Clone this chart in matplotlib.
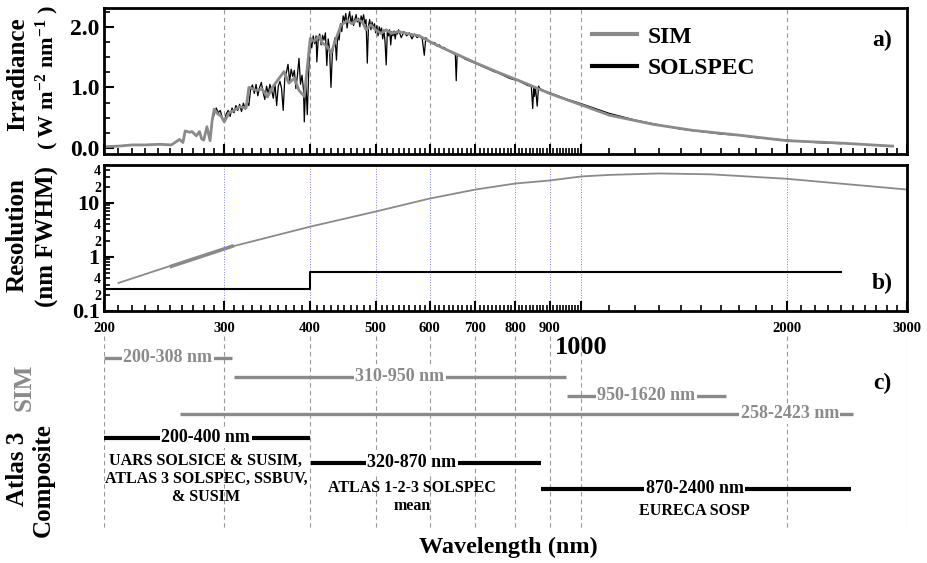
import matplotlib
matplotlib.use('Agg')
import matplotlib.pyplot as plt
import matplotlib.ticker as mticker
from matplotlib.lines import Line2D

plt.rcParams['font.family'] = 'Liberation Serif'
plt.rcParams['font.weight'] = 'bold'
plt.rcParams['mathtext.fontset'] = 'custom'
plt.rcParams['mathtext.rm'] = 'Liberation Serif:bold'
plt.rcParams['mathtext.it'] = 'Liberation Serif:bold'
plt.rcParams['mathtext.bf'] = 'Liberation Serif:bold'

# a) irradiance, W m-2 nm-1 (read off the figure)
sim_wl = [200, 210, 220, 230, 241, 251, 258, 261, 263, 267, 269, 273, 276, 278, 280,
          283, 286, 288, 290, 293, 297, 300, 305, 310, 316, 323, 326, 334, 341, 347,
          353, 361, 367, 373, 380, 386, 393, 401, 406, 413, 417, 425, 430, 437, 445,
          455, 462, 470, 478, 484, 492, 500, 509, 518, 527, 540, 554, 579, 599, 627,
          656, 702, 751, 803, 840, 868, 898, 1000, 1100, 1274, 1457, 1706, 2000, 2400, 2858]
sim_irr = [0.02, 0.03, 0.05, 0.05, 0.06, 0.05, 0.14, 0.09, 0.28, 0.26, 0.27, 0.20, 0.27, 0.15, 0.13,
           0.35, 0.12, 0.45, 0.64, 0.57, 0.52, 0.43, 0.58, 0.62, 0.68, 0.66, 1.00, 0.95, 0.97, 0.84,
           1.00, 1.15, 1.26, 1.07, 1.15, 0.95, 0.85, 1.81, 1.76, 1.84, 1.74, 1.67, 1.56, 1.79, 2.03,
           2.10, 2.05, 2.12, 2.08, 1.95, 2.03, 1.95, 1.89, 1.95, 1.89, 1.92, 1.89, 1.85, 1.76, 1.65,
           1.55, 1.40, 1.26, 1.13, 1.04, 0.97, 0.90, 0.71, 0.54, 0.39, 0.29, 0.21, 0.12, 0.08, 0.03]

solspec_wl = [288, 290, 292, 294, 296, 298, 300, 302, 304, 306, 308, 310, 312, 314, 316, 318,
              320, 322, 324, 326, 328, 330, 332, 334, 336, 338, 340, 342, 344, 346, 348, 350,
              352, 354, 356, 358, 360, 362, 364, 366, 368, 370, 372, 374, 376, 378, 380, 382,
              384, 386, 388, 390, 392, 393, 395, 397, 399, 401, 403, 405, 407, 409, 410, 412,
              414, 416, 418, 420, 422, 424, 426, 428, 430, 432, 434, 436, 438, 440, 442, 444,
              446, 448, 450, 452, 454, 456, 458, 460, 462, 464, 466, 468, 470, 472, 474, 476,
              478, 480, 482, 484, 486, 488, 490, 492, 494, 496, 498, 500, 502, 504, 506, 508,
              510, 512, 514, 516, 518, 520, 522, 524, 526, 528, 530, 532, 534, 536, 538, 540,
              545, 550, 555, 560, 565, 570, 575, 580, 585, 589, 592, 596, 600, 605, 610, 615,
              620, 625, 630, 635, 640, 645, 650, 654, 656, 658, 665, 675, 685, 695, 705, 715,
              725, 735, 745, 755, 765, 775, 785, 795, 805, 815, 825, 835, 845, 849, 852, 854,
              857, 862, 866, 870, 880, 890, 900, 950, 1000, 1100, 1200, 1300, 1400, 1500, 1600,
              1700, 1800, 1900, 2000, 2200, 2400]
solspec_irr = [0.45, 0.55, 0.66, 0.58, 0.62, 0.50, 0.43, 0.56, 0.62, 0.52, 0.66, 0.58, 0.70, 0.62, 0.72, 0.60,
               0.74, 0.64, 0.76, 0.70, 0.98, 1.04, 0.90, 1.05, 0.86, 1.00, 1.08, 0.92, 0.80, 1.02, 0.90, 1.05,
               0.95, 0.82, 1.06, 0.70, 1.02, 1.10, 0.98, 0.62, 1.15, 1.25, 1.38, 1.10, 1.30, 1.18, 1.28, 0.98,
               1.20, 1.48, 1.05, 1.20, 0.95, 0.43, 1.10, 0.55, 1.30, 1.78, 1.65, 1.85, 1.72, 1.85, 1.42, 1.82,
               1.88, 1.70, 1.86, 1.78, 1.90, 1.36, 1.80, 1.62, 1.00, 1.55, 1.72, 1.82, 1.45, 1.90, 1.78, 2.05,
               1.92, 2.18, 2.10, 2.22, 1.98, 2.15, 2.25, 2.05, 2.18, 2.02, 2.12, 2.20, 2.08, 2.14, 2.00, 2.18,
               2.10, 2.20, 2.05, 2.12, 1.40, 2.02, 2.12, 1.95, 2.08, 1.98, 2.05, 1.90, 2.02, 1.85, 2.00, 1.92,
               1.98, 1.80, 1.95, 1.75, 1.37, 1.92, 1.85, 1.95, 1.70, 1.92, 1.85, 1.93, 1.80, 1.92, 1.88, 1.95,
               1.82, 1.92, 1.85, 1.90, 1.80, 1.88, 1.82, 1.86, 1.80, 1.53, 1.82, 1.78, 1.76, 1.72, 1.74, 1.68,
               1.70, 1.65, 1.66, 1.62, 1.60, 1.58, 1.56, 1.54, 1.11, 1.53, 1.52, 1.47, 1.44, 1.41, 1.38, 1.35,
               1.32, 1.29, 1.26, 1.24, 1.21, 1.18, 1.15, 1.13, 1.12, 1.09, 1.06, 1.03, 1.02, 0.65, 1.00, 0.85,
               1.00, 0.69, 1.02, 0.98, 0.95, 0.93, 0.91, 0.81, 0.73, 0.57, 0.46, 0.38, 0.31, 0.27, 0.23,
               0.21, 0.17, 0.15, 0.13, 0.09, 0.07]

# b) resolution, nm FWHM
sim_res_wl = [210, 250, 300, 400, 500, 600, 700, 800, 900, 1000, 1100, 1300, 1550, 2000, 2480, 3000]
sim_res = [0.33, 0.68, 1.43, 3.6, 6.9, 12.0, 17.6, 22.7, 25.9, 30.7, 32.8, 34.9, 33.6, 27.8, 21.8, 17.6]
sim_res_uv_wl = [251, 308]
sim_res_uv = [0.67, 1.57]
solspec_res_wl = [200, 400, 400, 2400]
solspec_res = [0.26, 0.26, 0.52, 0.52]

# c) spectral coverage
sim_band_lab = ['200-308 nm', '310-950 nm', '950-1620 nm', '258-2423 nm']
sim_band_lo = [200, 310, 953, 258]
sim_band_hi = [308, 950, 1630, 2500]
atlas_band_lab = ['200-400 nm', '320-870 nm', '870-2400 nm']
atlas_band_lo = [200, 402, 872]
atlas_band_hi = [400, 872, 2480]
atlas_src = ['UARS SOLSICE & SUSIM,\nATLAS 3 SOLSPEC, SSBUV,\n& SUSIM',
             'ATLAS 1-2-3 SOLSPEC\nmean', 'EURECA SOSP']

grid_wl = [300, 400, 500, 600, 700, 800, 900, 1000, 2000]
tick_wl = [200, 300, 400, 500, 600, 700, 800, 900, 1000, 2000, 3000]
tick_lab = ['200', '300', '400', '500', '600', '700', '800', '900', '', '2000', '3000']
minor_wl = [w for w in range(210, 1000, 10) if w % 100] + [w for w in range(1100, 3000, 100) if w % 1000]

W, H = 928, 563
GRAY = '#8a8a8a'


def fx(px):
  return px / W


def fy(py):
  return 1 - py / H


fig = plt.figure(figsize=(W / 100, H / 100), dpi=100)
L, R = 104, 907
ax_a = fig.add_axes([fx(L), fy(154), fx(R - L), (154 - 8) / H])
ax_b = fig.add_axes([fx(L), fy(311), fx(R - L), (311 - 165) / H])
ax_c = fig.add_axes([fx(L), fy(530), fx(R - L), (530 - 334) / H])

for ax in (ax_a, ax_b):
  ax.set_xscale('log')
  ax.set_xlim(200, 3000)
  ax.xaxis.set_major_locator(mticker.FixedLocator(tick_wl))
  ax.xaxis.set_minor_locator(mticker.FixedLocator(minor_wl))
  ax.xaxis.set_minor_formatter(mticker.NullFormatter())
  ax.tick_params(which='both', direction='in', top=False, right=False)
  ax.tick_params(which='major', length=7, width=1.5)
  ax.tick_params(which='minor', length=4, width=1.2)
  for s in ax.spines.values():
    s.set_linewidth(2)

# a) irradiance
for w in grid_wl:
  ax_a.axvline(w, color='#999999', lw=0.8, ls=(0, (4, 3)), zorder=0)
ax_a.plot(solspec_wl, solspec_irr, color='black', lw=0.9)
ax_a.plot(sim_wl, sim_irr, color=GRAY, lw=2.0)
ax_a.set_ylim(-0.1, 2.31)
ax_a.yaxis.set_major_locator(mticker.FixedLocator([0, 1, 2]))
ax_a.yaxis.set_major_formatter(mticker.FixedFormatter(['0.0', '1.0', '2.0']))
ax_a.yaxis.set_minor_locator(mticker.MultipleLocator(0.25))
ax_a.xaxis.set_major_formatter(mticker.NullFormatter())
ax_a.tick_params(axis='y', labelsize=17)
handles = [Line2D([], [], color=GRAY, lw=3), Line2D([], [], color='black', lw=3)]
ax_a.legend(handles, ['SIM', 'SOLSPEC'], loc='upper left', bbox_to_anchor=((592 - L) / (R - L), (154 - 26) / 146),
            frameon=False, fontsize=17, handlelength=1.9, handletextpad=0.45, labelspacing=0.42,
            borderpad=0, borderaxespad=0)

# b) resolution
for w in grid_wl:
  ax_b.axvline(w, color='#7a7aff', lw=0.7, ls=':', zorder=0)
ax_b.plot(sim_res_wl, sim_res, color=GRAY, lw=1.3)
ax_b.plot(sim_res_uv_wl, sim_res_uv, color=GRAY, lw=2.6)
ax_b.plot(solspec_res_wl, solspec_res, color='black', lw=1.5)
ax_b.set_yscale('log')
ax_b.set_ylim(0.1, 50)
ax_b.yaxis.set_major_locator(mticker.FixedLocator([0.1, 1, 10]))
ax_b.yaxis.set_major_formatter(mticker.FixedFormatter(['0.1', '1', '10']))
ax_b.yaxis.set_minor_locator(mticker.LogLocator(base=10, subs=range(2, 10), numticks=20))


def minor_lab(v, pos):
  m = round(v / 10 ** int(f'{v:e}'.split('e')[1]))
  return str(m) if m in (2, 4) else ''


ax_b.yaxis.set_minor_formatter(mticker.FuncFormatter(minor_lab))
ax_b.tick_params(axis='y', which='major', labelsize=16, pad=3)
ax_b.tick_params(axis='y', which='minor', labelsize=10, pad=2)
ax_b.xaxis.set_major_formatter(mticker.FixedFormatter(tick_lab))
ax_b.tick_params(axis='x', which='major', labelsize=10.5, pad=8)
ax_b.text(1000, -0.247, '1000', transform=ax_b.get_xaxis_transform(), ha='center', va='center', fontsize=19)

# c) coverage bars
ax_c.set_xscale('log')
ax_c.set_xlim(200, 3000)
ax_c.set_ylim(530, 334)
ax_c.axis('off')
ax_c.vlines(tick_wl, 336, 528, color='#999999', lw=0.8, linestyles=[(0, (4, 3))], zorder=0)

sim_rows = [358, 377, 396, 414]
sim_lab_x = [248, 542, 1245, 2021]
for lab, lo, hi, y, xl in zip(sim_band_lab, sim_band_lo, sim_band_hi, sim_rows, sim_lab_x):
  ax_c.hlines(y, lo, hi, color=GRAY, lw=2.4)
  ax_c.text(xl, y, lab, color=GRAY, fontsize=13, ha='center', va='center',
            bbox=dict(fc='white', ec='none', pad=1))

atlas_rows = [438, 463, 489]
atlas_lab_x = [282, 565, 1466]
src_y = [479, 497, 511]
for lab, lo, hi, y, xl, src, sy in zip(atlas_band_lab, atlas_band_lo, atlas_band_hi, atlas_rows,
                                        atlas_lab_x, atlas_src, src_y):
  ax_c.hlines(y, lo, hi, color='black', lw=3)
  ax_c.text(xl, y, lab, color='black', fontsize=13, ha='center', va='center',
            bbox=dict(fc='white', ec='none', pad=1))
  ax_c.text(xl, sy, src, color='black', fontsize=11.5, ha='center', va='center',
            multialignment='center', linespacing=1.15)

# labels
fig.text(fx(17.5), fy(74), 'Irradiance', rotation=90, ha='center', va='center', fontsize=18)
fig.text(fx(47), fy(78), '( W m$^{-2}$ nm$^{-1}$ )', rotation=90, ha='center', va='center', fontsize=16)
fig.text(fx(17.5), fy(235), 'Resolution', rotation=90, ha='center', va='center', fontsize=18)
fig.text(fx(47), fy(236), '(nm FWHM)', rotation=90, ha='center', va='center', fontsize=18)
fig.text(fx(24), fy(387), 'SIM', rotation=90, ha='center', va='center', fontsize=18, color=GRAY)
fig.text(fx(17.5), fy(469), 'Atlas 3', rotation=90, ha='center', va='center', fontsize=18)
fig.text(fx(43), fy(480), 'Composite', rotation=90, ha='center', va='center', fontsize=18)
fig.text(fx(508), fy(547), 'Wavelength (nm)', ha='center', va='center', fontsize=17.5)
fig.text(fx(882), fy(40), 'a)', ha='center', va='center', fontsize=17)
fig.text(fx(882), fy(283), 'b)', ha='center', va='center', fontsize=17)
fig.text(fx(882), fy(383), 'c)', ha='center', va='center', fontsize=17)

fig.savefig('out.png', dpi=100)
